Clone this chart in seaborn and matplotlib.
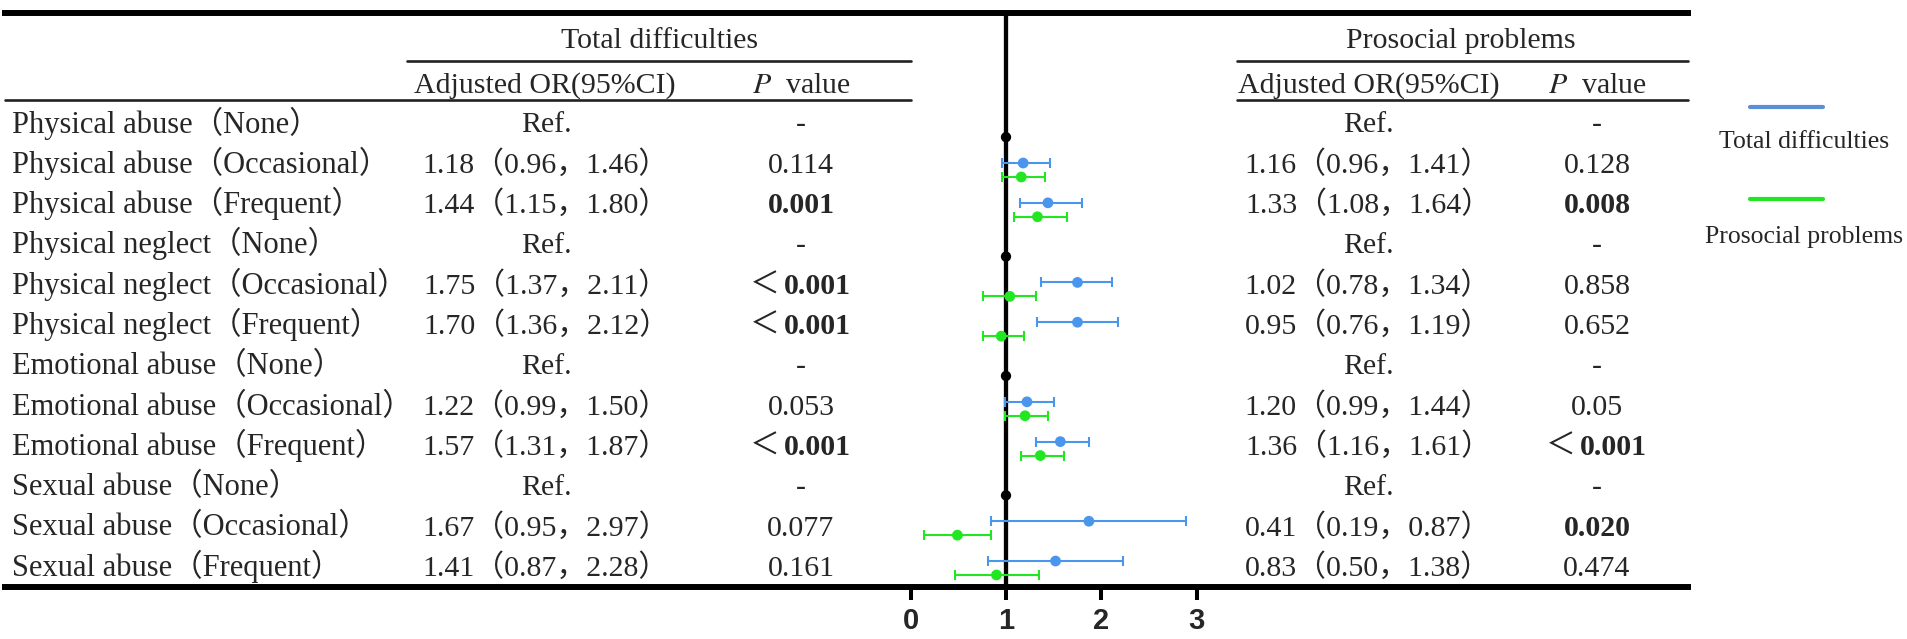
import numpy as np
import pandas as pd
import matplotlib
matplotlib.use("Agg")
import matplotlib.pyplot as plt
from matplotlib.lines import Line2D
import seaborn as sns

# ---- table content ----
labels = [
    "Physical abuse（None）", "Physical abuse（Occasional）", "Physical abuse（Frequent）",
    "Physical neglect（None）", "Physical neglect（Occasional）", "Physical neglect（Frequent）",
    "Emotional abuse（None）", "Emotional abuse（Occasional）", "Emotional abuse（Frequent）",
    "Sexual abuse（None）", "Sexual abuse（Occasional）", "Sexual abuse（Frequent）",
]

td_or = [np.nan, 1.18, 1.44, np.nan, 1.75, 1.70, np.nan, 1.22, 1.57, np.nan, 1.67, 1.41]
td_lo = [np.nan, 0.96, 1.15, np.nan, 1.37, 1.36, np.nan, 0.99, 1.31, np.nan, 0.95, 0.87]
td_hi = [np.nan, 1.46, 1.80, np.nan, 2.11, 2.12, np.nan, 1.50, 1.87, np.nan, 2.97, 2.28]
td_p = ["-", "0.114", "0.001", "-", "<0.001", "<0.001", "-", "0.053", "<0.001", "-", "0.077", "0.161"]
td_bold = [False, False, True, False, True, True, False, False, True, False, False, False]

pp_or = [np.nan, 1.16, 1.33, np.nan, 1.02, 0.95, np.nan, 1.20, 1.36, np.nan, 0.41, 0.83]
pp_lo = [np.nan, 0.96, 1.08, np.nan, 0.78, 0.76, np.nan, 0.99, 1.16, np.nan, 0.19, 0.50]
pp_hi = [np.nan, 1.41, 1.64, np.nan, 1.34, 1.19, np.nan, 1.44, 1.61, np.nan, 0.87, 1.38]
pp_p = ["-", "0.128", "0.008", "-", "0.858", "0.652", "-", "0.05", "<0.001", "-", "0.020", "0.474"]
pp_bold = [False, False, True, False, False, False, False, False, True, False, True, False]

# ---- forest marks, as drawn in the figure ----
td_plot_or = [np.nan, 1.18, 1.44, np.nan, 1.75, 1.75, np.nan, 1.22, 1.57, np.nan, 1.87, 1.52]
td_plot_lo = [np.nan, 0.96, 1.15, np.nan, 1.37, 1.33, np.nan, 0.99, 1.31, np.nan, 0.84, 0.81]
td_plot_hi = [np.nan, 1.46, 1.80, np.nan, 2.11, 2.18, np.nan, 1.50, 1.87, np.nan, 2.89, 2.23]
pp_plot_or = [np.nan, 1.16, 1.33, np.nan, 1.04, 0.95, np.nan, 1.20, 1.36, np.nan, 0.49, 0.90]
pp_plot_lo = [np.nan, 0.96, 1.08, np.nan, 0.76, 0.76, np.nan, 0.99, 1.16, np.nan, 0.14, 0.46]
pp_plot_hi = [np.nan, 1.41, 1.64, np.nan, 1.32, 1.19, np.nan, 1.44, 1.61, np.nan, 0.84, 1.35]
ref_rows = [0, 3, 6, 9]

x_ticks = [0, 1, 2, 3]
legend_names = ["Total difficulties", "Prosocial problems"]

BLUE = "#4A96EC"
GREEN = "#22E622"
W, H = 1908, 639

sns.set_theme(style="white")
plt.rcParams["font.family"] = ["Liberation Serif", "Noto Sans CJK SC"]
plt.rcParams["mathtext.fontset"] = "stix"

fig = plt.figure(figsize=(W / 100, H / 100), dpi=100)


def fx(x):
    return x / W


def fy(y):
    return 1 - y / H


def hline(x0, x1, y, lw=1.9):
    fig.add_artist(Line2D([fx(x0), fx(x1)], [fy(y), fy(y)], color="#222222", lw=lw,
                          transform=fig.transFigure))


# forest axes spans the whole table; 0 -> 910.7px, 1 -> 1006px
left_px, right_px, top_px, bot_px = 5, 1688, 13, 587
unit = 95.3
zero_px = 910.7
row0_px, row_step = 130.2, 39.8
ax = fig.add_axes([fx(left_px), fy(bot_px), fx(right_px - left_px), (bot_px - top_px) / H])
ax.set_xlim((left_px - zero_px) / unit, (right_px - zero_px) / unit)
ax.set_ylim((bot_px - row0_px) / row_step, (top_px - row0_px) / row_step)

rows = np.arange(len(labels))
off = 0.175
df = pd.concat([
    pd.DataFrame({"row": rows - off, "or": td_plot_or, "lo": td_plot_lo, "hi": td_plot_hi,
                  "grp": legend_names[0]}),
    pd.DataFrame({"row": rows + off, "or": pp_plot_or, "lo": pp_plot_lo, "hi": pp_plot_hi,
                  "grp": legend_names[1]}),
]).dropna()

ax.axvline(1, color="black", lw=3.1, zorder=1)
for name, col in zip(legend_names, [BLUE, GREEN]):
    sub = df[df["grp"] == name]
    ax.errorbar(sub["or"], sub["row"], xerr=[sub["or"] - sub["lo"], sub["hi"] - sub["or"]],
                fmt="none", ecolor=col, elinewidth=1.5, capsize=3.6, capthick=1.5, zorder=2)
sns.scatterplot(data=df, x="or", y="row", hue="grp", palette=[BLUE, GREEN], s=60,
                edgecolor="none", legend=False, ax=ax, zorder=3)
ref_df = pd.DataFrame({"or": [1.0] * len(ref_rows), "row": np.array(ref_rows) + off})
sns.scatterplot(data=ref_df, x="or", y="row", color="black", s=55, edgecolor="none",
                legend=False, ax=ax, zorder=4)

ax.set_xlabel("")
ax.set_ylabel("")
ax.set_yticks([])
ax.set_xticks(x_ticks)
ax.set_xticklabels([str(t) for t in x_ticks], fontfamily="Liberation Sans",
                   fontweight="bold", fontsize=21)
ax.tick_params(axis="x", direction="out", length=9.5, width=2.9, pad=5, color="black",
               bottom=True)
for side in ["left", "right"]:
    ax.spines[side].set_visible(False)
for side in ["top", "bottom"]:
    ax.spines[side].set_color("black")
    ax.spines[side].set_linewidth(4.3)
ax.patch.set_alpha(0)

# ---- table ----
FS = 21.5
hline(407, 911, 61)
hline(1237, 1688, 61)
hline(5, 911, 100)
hline(1237, 1688, 100)

fig.text(fx(660), fy(48.5), "Total difficulties", ha="center", va="baseline", fontsize=FS)
fig.text(fx(1461), fy(48.5), "Prosocial problems", ha="center", va="baseline", fontsize=FS)
for cx_or, cx_p in [(545, 801), (1369, 1597)]:
    fig.text(fx(cx_or), fy(93), "Adjusted OR(95%CI)", ha="center", va="baseline", fontsize=FS)
    fig.text(fx(cx_p), fy(93), "$P$  value", ha="center", va="baseline", fontsize=FS)


def ci_text(o, lo, hi):
    if np.isnan(o):
        return "Ref."
    return f"{o:.2f}（{lo:.2f}，{hi:.2f}）"


def p_text(cx, y, s, bold):
    if s.startswith("<"):
        fig.text(fx(cx - 36), fy(y), "＜", ha="center", va="baseline", fontsize=FS)
        fig.text(fx(cx + 16), fy(y), s[1:], ha="center", va="baseline", fontsize=FS,
                 fontweight="bold")
    else:
        fig.text(fx(cx), fy(y), s, ha="center", va="baseline", fontsize=FS,
                 fontweight="bold" if bold else "normal")


for r in rows:
    base = 132.5 + 40.3 * r
    fig.text(fx(12), fy(base), labels[r], ha="left", va="baseline", fontsize=22)
    fig.text(fx(546), fy(base), ci_text(td_or[r], td_lo[r], td_hi[r]), ha="center",
             va="baseline", fontsize=FS)
    fig.text(fx(1368), fy(base), ci_text(pp_or[r], pp_lo[r], pp_hi[r]), ha="center",
             va="baseline", fontsize=FS)
    p_text(801, base, td_p[r], td_bold[r])
    p_text(1597, base, pp_p[r], pp_bold[r])

# ---- legend (line above its label) ----
for (ly, ty), name, col in zip([(107, 148), (199, 243)], legend_names, ["#5A90D6", GREEN]):
    fig.add_artist(Line2D([fx(1750), fx(1823)], [fy(ly), fy(ly)], color=col, lw=3,
                          transform=fig.transFigure))
    fig.text(fx(1804), fy(ty), name, ha="center", va="baseline", fontsize=18.5)

fig.savefig("out.png", dpi=100)
